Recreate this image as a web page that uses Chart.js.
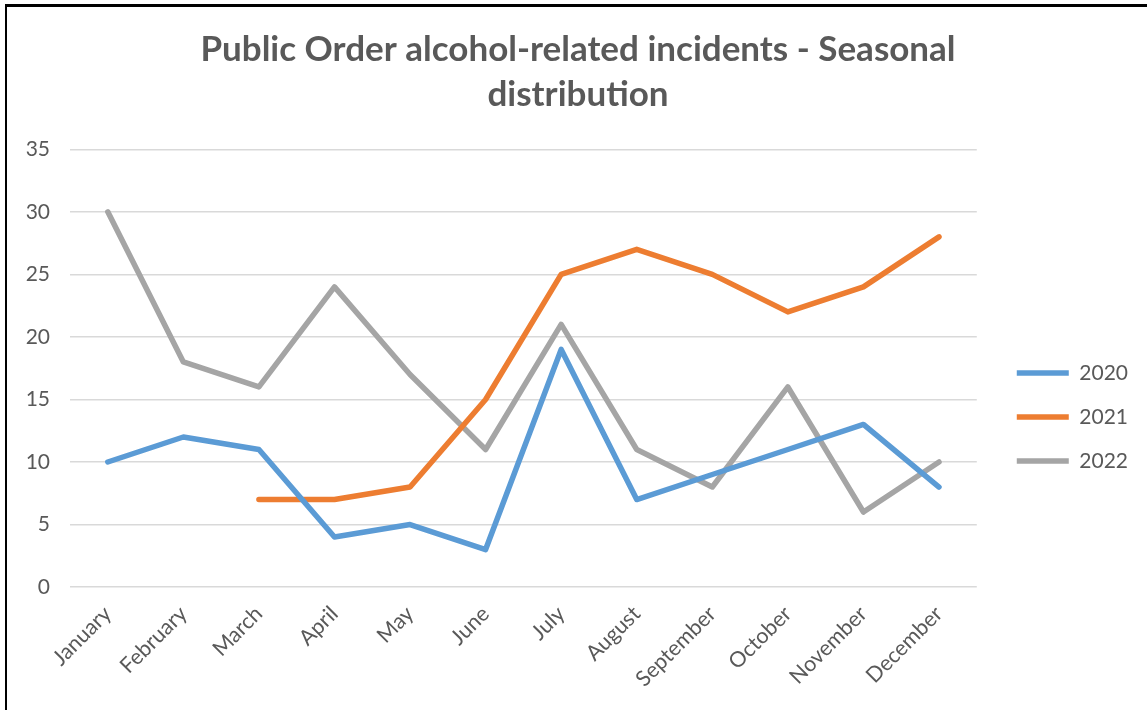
<!DOCTYPE html>
<html>
<head>
<meta charset="utf-8">
<script src="https://cdn.jsdelivr.net/npm/chart.js@4.4.0/dist/chart.umd.min.js"></script>
<style>
  html, body { margin: 0; padding: 0; background: #fff; overflow: hidden; }
  #marco {
    position: absolute; left: 5px; top: 4px;
    width: 1160px; height: 720px;
    border-left: 2px solid #000; border-top: 3px solid #000;
  }
  #caja { position: absolute; left: 7px; top: 7px; width: 1140px; height: 703px; }
</style>
</head>
<body>
<div id="marco"></div>
<div id="caja"><canvas id="grafico"></canvas></div>
<script>
// Meses del eje X
const meses = ['January', 'February', 'March', 'April', 'May', 'June', 'July',
  'August', 'September', 'October', 'November', 'December'];

// Incidentes por mes y año
const datos2020 = [10, 12, 11, 4, 5, 3, 19, 7, 9, 11, 13, 8];
const datos2021 = [null, null, 7, 7, 8, 15, 25, 27, 25, 22, 24, 28];
const datos2022 = [30, 18, 16, 24, 17, 11, 21, 11, 8, 16, 6, 10];

// Marcas del eje Y
const marcasY = [0, 5, 10, 15, 20, 25, 30, 35];

const gris = '#595959';
const fuente = 'Lato, "Open Sans", sans-serif';

function serie(nombre, valores, color) {
  return {
    label: nombre,
    data: valores,
    borderColor: color,
    backgroundColor: color,
    borderWidth: 5.5,
    pointRadius: 0,
    tension: 0,
    spanGaps: false,
    borderCapStyle: 'round',
    borderJoinStyle: 'round'
  };
}

new Chart(document.getElementById('grafico'), {
  type: 'line',
  data: {
    labels: meses,
    datasets: [
      serie('2020', datos2020, '#5B9BD5'),
      serie('2021', datos2021, '#ED7D31'),
      serie('2022', datos2022, '#A5A5A5')
    ]
  },
  options: {
    responsive: true,
    maintainAspectRatio: false,
    animation: false,
    layout: { padding: { left: 11, right: 9, top: 20, bottom: 12 } },
    plugins: {
      title: {
        display: true,
        text: ['Public Order alcohol-related incidents - Seasonal', 'distribution'],
        color: gris,
        font: { family: fuente, size: 35, weight: 'bold', lineHeight: 1.29 },
        padding: { top: 0, bottom: 32 }
      },
      legend: {
        position: 'right',
        // título vacío solo para bajar la leyenda
        title: { display: true, text: ' ', font: { size: 10 }, padding: { top: 0, bottom: 97 } },
        labels: {
          color: gris,
          font: { family: fuente, size: 21 },
          boxWidth: 52,
          boxHeight: 5.5,
          padding: 23,
          generateLabels: chart => chart.data.datasets.map((d, i) => ({
            text: d.label,
            fillStyle: d.borderColor,
            strokeStyle: d.borderColor,
            lineWidth: 0,
            fontColor: gris,
            datasetIndex: i
          }))
        }
      },
      tooltip: { enabled: false }
    },
    scales: {
      x: {
        offset: true,
        grid: { display: false },
        border: { display: false },
        ticks: {
          color: gris,
          font: { family: fuente, size: 21.5 },
          minRotation: 45,
          maxRotation: 45,
          padding: 6
        },
        // las etiquetas giradas pueden salirse del área, como en el original
        afterFit: eje => { eje.paddingLeft = 0; eje.paddingRight = 0; }
      },
      y: {
        min: marcasY[0],
        max: marcasY[marcasY.length - 1],
        afterBuildTicks: eje => { eje.ticks = marcasY.map(v => ({ value: v })); },
        grid: { color: '#D9D9D9', lineWidth: 1.5, drawTicks: false },
        border: { display: false },
        ticks: {
          color: gris,
          font: { family: fuente, size: 21 },
          padding: 20
        },
        afterFit: eje => { eje.width = 52; }
      },
      // eje vacío a la derecha: separa el área del gráfico de la leyenda
      hueco: {
        position: 'right',
        display: true,
        grid: { display: false },
        border: { display: false },
        ticks: { display: false },
        afterFit: eje => { eje.width = 17; }
      }
    }
  }
});
</script>
</body>
</html>
